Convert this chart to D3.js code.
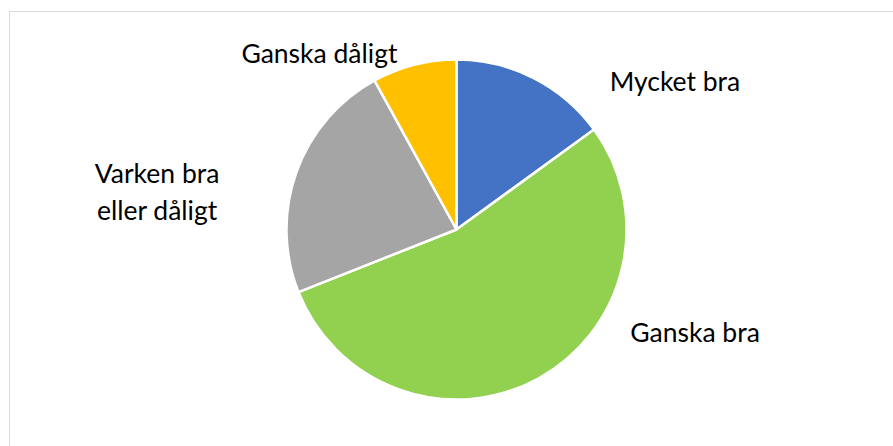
<!DOCTYPE html>
<html>
<head>
<meta charset="utf-8">
<script src="https://cdn.jsdelivr.net/npm/d3@7"></script>
<style>
  body { margin: 0; background: #fff; }
  text { font-family: Lato, "Open Sans", sans-serif; fill: #000; }
</style>
</head>
<body>
<div id="chart"></div>
<script>
// data
var categories = ["Mycket bra", "Ganska bra", "Varken bra eller dåligt", "Ganska dåligt"];
var values = [15, 54, 23, 8];
var colors = ["#4472C4", "#92D050", "#A5A5A5", "#FFC000"];

// label text lines and where they sit (angle in degrees from top, distance in radii)
var labelLines = [["Mycket bra"], ["Ganska bra"], ["Varken bra", "eller dåligt"], ["Ganska dåligt"]];
var labelAngle = [56, 113.5, 277.1, 322];
var labelDist = [1.55, 1.53, 1.775, 1.31];

var width = 893, height = 446;
var cx = 456.5, cy = 229.5, radius = 170;

var svg = d3.select("#chart")
    .append("svg")
    .attr("width", width)
    .attr("height", height);

// chart area border
svg.append("rect")
    .attr("x", 9.5)
    .attr("y", 11.5)
    .attr("width", 900)
    .attr("height", 460)
    .attr("fill", "none")
    .attr("stroke", "#d9d9d9")
    .attr("stroke-width", 1);

var g = svg.append("g")
    .attr("transform", "translate(" + cx + "," + cy + ")");

var pie = d3.pie().sort(null).value(function (d) { return d; });
var arc = d3.arc().innerRadius(0).outerRadius(radius);

g.selectAll("path")
    .data(pie(values))
    .enter()
    .append("path")
    .attr("d", arc)
    .attr("fill", function (d, i) { return colors[i]; })
    .attr("stroke", "#fff")
    .attr("stroke-width", 2.5)
    .attr("stroke-linejoin", "round");

// labels
var lineH = 37;
categories.forEach(function (c, i) {
    var a = labelAngle[i] * Math.PI / 180;
    var x = Math.sin(a) * radius * labelDist[i];
    var y = -Math.cos(a) * radius * labelDist[i];
    var lines = labelLines[i];
    var t = g.append("text")
        .attr("text-anchor", "middle")
        .attr("font-size", 26.5)
        .attr("x", x)
        .attr("y", y);
    lines.forEach(function (l, j) {
        t.append("tspan")
            .attr("x", x)
            .attr("y", y + (j - (lines.length - 1) / 2) * lineH)
            .attr("dy", "0.35em")
            .text(l);
    });
});
</script>
</body>
</html>
